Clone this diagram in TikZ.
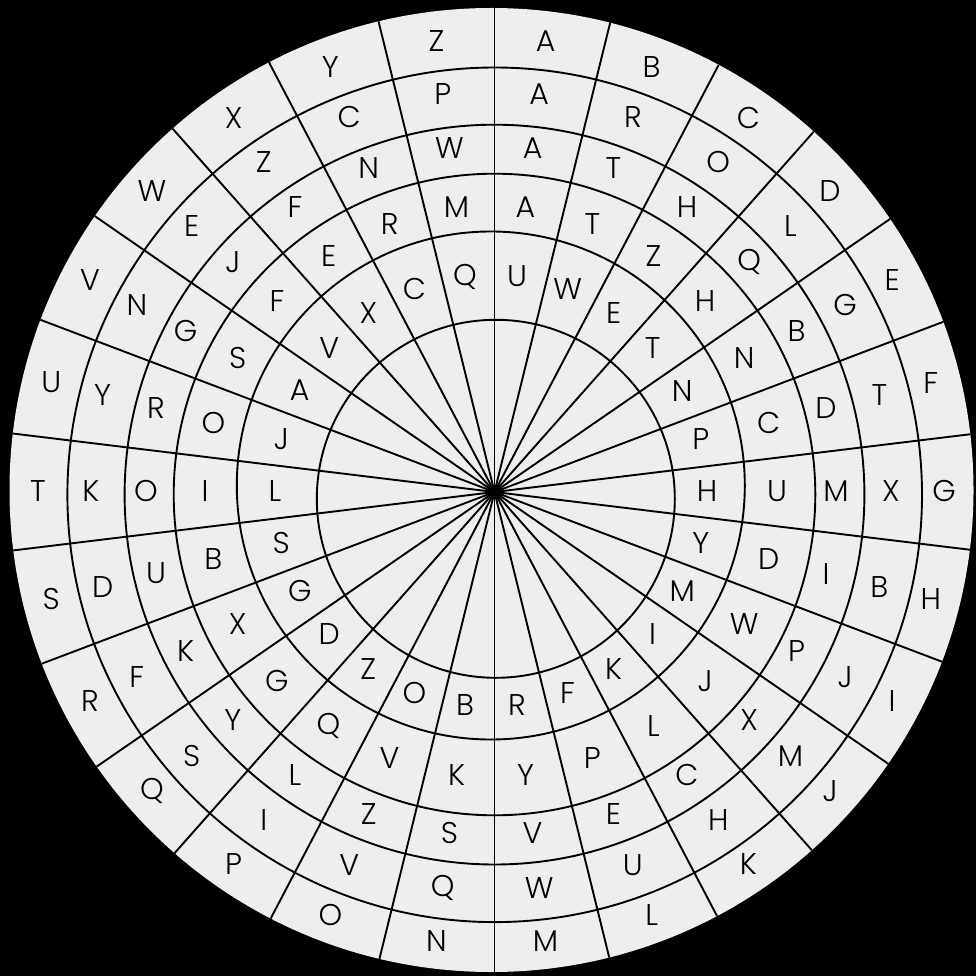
\documentclass[tikz,border=0pt]{standalone}
\usepackage{fontspec}
\setmainfont{Poppins}[UprightFont=* Light]
\definecolor{wheelgray}{RGB}{238,238,238}
\tikzset{
  ringline/.style={draw=black,line width=1.9pt},
  spokeline/.style={draw=black,line width=1.9pt},
  letter/.style={font=\fontsize{30}{30}\selectfont,inner sep=0pt,anchor=center,text=black}
}
\begin{document}
\begin{tikzpicture}[x=1pt,y=-1pt]
\fill[black] (0,0) rectangle (976,976);
\useasboundingbox (0,0) rectangle (976,976);
% disc
\fill[wheelgray] (491.5,490) circle[radius=482];
\coordinate (hub) at (494.5,492);
\coordinate (lc) at (491,491);
% spokes
\begin{scope}
  \clip (491.5,490) circle[radius=482];
  \foreach \k in {0,...,25}{
    \draw[spokeline] (hub) -- ++({\k*360/26-90}:560);
  }
\end{scope}
% rings
\draw[ringline] (494.7,494.8) circle[radius=427.3];
\draw[ringline] (494.5,494.6) circle[radius=369.9];
\draw[ringline] (494.5,494.5) circle[radius=320.8];
\draw[ringline] (490.8,485.5) circle[radius=254];
\draw[ringline] (495.8,498.8) circle[radius=179];
% letters
\foreach \ch [count=\k from 0] in {A,B,C,D,E,F,G,H,I,J,K,L,M,N,O,P,Q,R,S,T,U,V,W,X,Y,Z}{
  \path (lc) ++({(\k+0.5)*360/26-90}:453) node[letter] (ra\k) {\ch};
}
\foreach \ch [count=\k from 0] in {A,R,O,L,G,T,X,B,J,M,H,U,W,Q,V,I,S,F,D,K,Y,N,E,Z,C,P}{
  \path (lc) ++({(\k+0.5)*360/26-90}:400) node[letter] (rb\k) {\ch};
}
\foreach \ch [count=\k from 0] in {A,T,H,Q,B,D,M,I,P,X,C,E,V,S,Z,L,Y,K,U,O,R,G,J,F,N,W}{
  \path (lc) ++({(\k+0.5)*360/26-90}:345) node[letter] (rc\k) {\ch};
}
\foreach \ch [count=\k from 0] in {A,T,Z,H,N,C,U,D,W,J,L,P,Y,K,V,Q,G,X,B,I,O,S,F,E,R,M}{
  \path (lc) ++({(\k+0.5)*360/26-90}:286) node[letter] (rd\k) {\ch};
}
\foreach \ch [count=\k from 0] in {U,W,E,T,N,P,H,Y,M,I,K,F,R,B,O,Z,D,G,S,L,J,A,V,X,C,Q}{
  \path (lc) ++({(\k+0.5)*360/26-90}:216) node[letter] (re\k) {\ch};
}
\end{tikzpicture}
\end{document}
